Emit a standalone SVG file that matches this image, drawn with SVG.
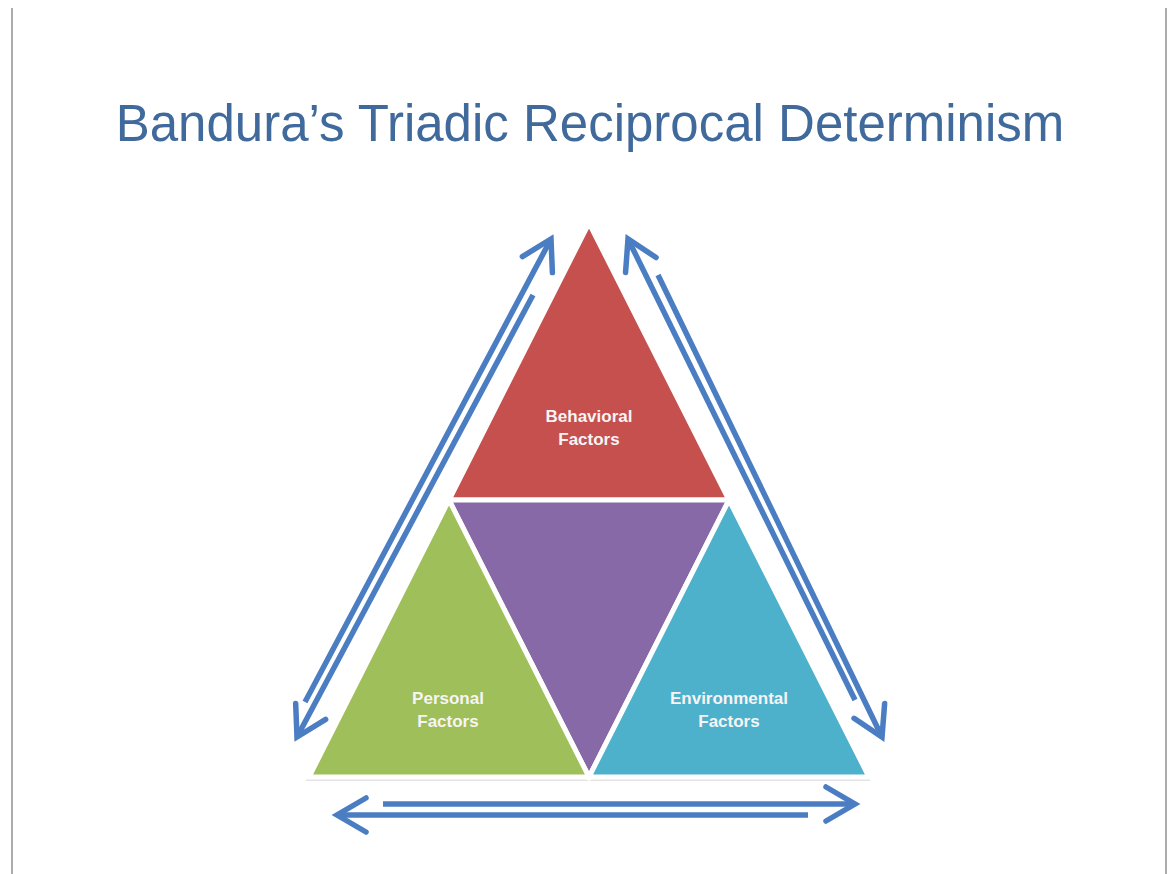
<svg xmlns="http://www.w3.org/2000/svg" width="1171" height="874" viewBox="0 0 1171 874">
  <style>
    .title { font-family: "Liberation Sans", Arial, sans-serif; font-size: 51px; fill: #40699C; }
    .label { font-family: "Liberation Sans", Arial, sans-serif; font-size: 17px; font-weight: bold; fill: #F7F4F4; text-anchor: middle; }
    .tri { stroke: #FFFFFF; stroke-width: 5; stroke-linejoin: miter; }
    .arrow { fill: none; stroke: #4A7DC2; stroke-width: 5.5; marker-end: url(#chev); }
  </style>
  <defs>
    <marker id="chev" markerUnits="userSpaceOnUse" orient="auto" refX="0" refY="0" markerWidth="60" markerHeight="60" overflow="visible">
      <path d="M-29,-17 L0,0 L-29,17" fill="none" stroke="#4A7DC2" stroke-width="5.5" stroke-linecap="round" stroke-linejoin="miter"/>
    </marker>
    <filter id="soft" x="-5%" y="-5%" width="110%" height="110%">
      <feGaussianBlur stdDeviation="1.5"/>
    </filter>
  </defs>

  <!-- page background and slide frame -->
  <rect x="0" y="0" width="1171" height="874" fill="#FFFFFF"/>
  <g id="frame">
    <line x1="12" y1="8" x2="1166" y2="8" stroke="#E2E2E2" stroke-width="2" filter="url(#soft)"/>
    <line x1="12" y1="8" x2="12" y2="874" stroke="#D0D0D0" stroke-width="7" filter="url(#soft)"/>
    <line x1="1166" y1="8" x2="1166" y2="874" stroke="#D0D0D0" stroke-width="7" filter="url(#soft)"/>
    <line x1="12" y1="8" x2="12" y2="874" stroke="#ACACAC" stroke-width="2"/>
    <line x1="1166" y1="8" x2="1166" y2="874" stroke="#ACACAC" stroke-width="2"/>
  </g>

  <text id="title" class="title" x="590" y="141" text-anchor="middle">Bandura’s Triadic Reciprocal Determinism</text>

  <!-- base shadow under the pyramid -->
  <line x1="304" y1="781" x2="872" y2="781" stroke="#BEBEBE" stroke-width="2.5" filter="url(#soft)"/>
  <line x1="306" y1="780" x2="870" y2="780" stroke="#C8C8C8" stroke-width="1.2"/>

  <g id="node-behavioral">
    <polygon class="tri" points="589,223 729,500 449,500" fill="#C5504E"/>
    <text class="label" x="589" y="422">Behavioral</text>
    <text class="label" x="589" y="445">Factors</text>
  </g>

  <g id="node-center">
    <polygon class="tri" points="449,500 729,500 589,777" fill="#8669A6"/>
  </g>

  <g id="node-personal">
    <polygon class="tri" points="449,500 589,777 309,777" fill="#9FBF5A"/>
    <text class="label" x="448" y="704">Personal</text>
    <text class="label" x="448" y="727">Factors</text>
  </g>

  <g id="node-environmental">
    <polygon class="tri" points="729,500 869,777 589,777" fill="#4DB1CC"/>
    <text class="label" x="729" y="704">Environmental</text>
    <text class="label" x="729" y="727">Factors</text>
  </g>

  <g id="connectors">
    <!-- personal <-> behavioral -->
    <line class="arrow" x1="305" y1="702" x2="551" y2="239"/>
    <line class="arrow" x1="533" y1="295" x2="297" y2="737"/>
    <!-- behavioral <-> environmental -->
    <line class="arrow" x1="855" y1="700" x2="628" y2="239"/>
    <line class="arrow" x1="658" y1="275" x2="882" y2="737"/>
    <!-- personal <-> environmental -->
    <line class="arrow" x1="383" y1="804" x2="855" y2="804"/>
    <line class="arrow" x1="808" y1="815" x2="337" y2="815"/>
  </g>
</svg>
